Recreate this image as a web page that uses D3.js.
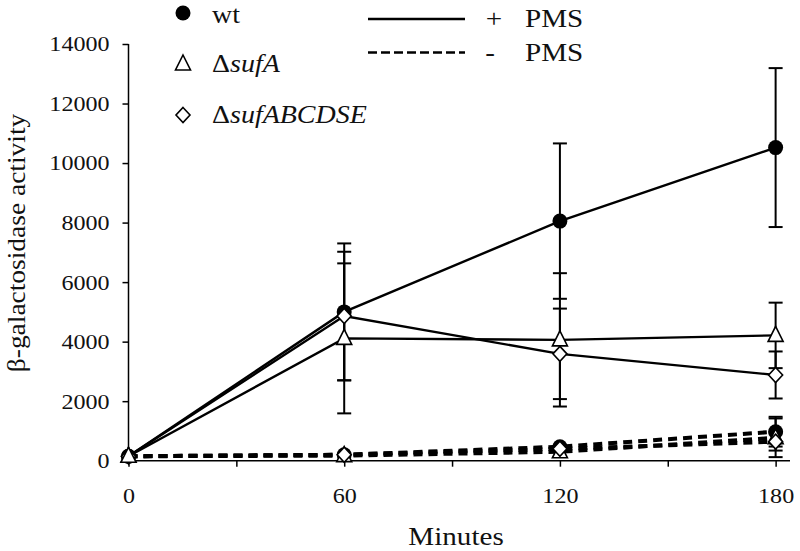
<!DOCTYPE html>
<html><head><meta charset="utf-8">
<script src="https://cdn.jsdelivr.net/npm/d3@7"></script>
<style>body{margin:0;background:#fff}svg{display:block}svg text{font-family:'Liberation Serif','Times New Roman',Times,'DejaVu Serif',serif !important;fill:#111}</style>
</head><body><svg id="c" width="800" height="551"></svg>
<script>
const minutes = [0, 60, 120, 180];
const xTicks = [0, 30, 60, 90, 120, 150, 180];
const xTickLabels = [0, 60, 120, 180];
const yTicks = [0, 2000, 4000, 6000, 8000, 10000, 12000, 14000];

// +PMS (solid)
const wtPlus = [150, 5000, 8050, 10520];
const wtPlusErr = [0, 2300, 2610, 2670];
const sufAPlus = [150, 4110, 4060, 4210];
const sufAPlusErr = [0, 2520, 2240, 1100];
const sufAllPlus = [150, 4860, 3590, 2880];
const sufAllPlusErr = [0, 2160, 1520, 790];
// -PMS (dashed)
const wtMinus = [150, 200, 470, 975];
const wtMinusErr = [0, 0, 0, 500];
const sufAMinus = [150, 170, 300, 770];
const sufAMinusErr = [0, 0, 0, 650];
const sufAllMinus = [150, 200, 400, 640];
const sufAllMinusErr = [0, 0, 0, 300];

const series = [
  {v: wtPlus, e: wtPlusErr, m: "circle", dash: false},
  {v: sufAPlus, e: sufAPlusErr, m: "triangle", dash: false},
  {v: sufAllPlus, e: sufAllPlusErr, m: "diamond", dash: false},
  {v: wtMinus, e: wtMinusErr, m: "circle", dash: true},
  {v: sufAMinus, e: sufAMinusErr, m: "triangle", dash: true},
  {v: sufAllMinus, e: sufAllMinusErr, m: "diamond", dash: true},
];

const FONT = "'Liberation Serif','Times New Roman',Times,'DejaVu Serif',serif";
const SX = 1.12; // horizontal stretch of the reference typography
const svg = d3.select("#c");
const x = d3.scaleLinear().domain([0, 184]).range([128.5, 790]);
const y = d3.scaleLinear().domain([0, 14000]).range([460.7, 44]);

// axes
const xAxis = svg.append("g").attr("transform", `translate(0,${y(0)})`)
  .call(d3.axisBottom(x).tickValues(xTicks).tickSize(6).tickFormat(d => xTickLabels.includes(d) ? d : ""));
xAxis.attr("font-family", FONT);
xAxis.select(".domain").attr("d", `M${x(0)},0H${x(184)}`).attr("stroke-width", 1.5);
xAxis.selectAll(".tick line").attr("stroke-width", 1.5);
xAxis.selectAll("text").attr("dy", 0).attr("y", 42).attr("font-size", 21.5).attr("transform", `scale(${SX},1)`);

const yAxis = svg.append("g").attr("transform", `translate(${x(0)},0)`)
  .call(d3.axisLeft(y).tickValues(yTicks).tickSize(6).tickFormat(d3.format("d")));
yAxis.attr("font-family", FONT);
yAxis.select(".domain").attr("d", `M0,${y(14000)}V${y(0)}`).attr("stroke-width", 1.5);
yAxis.selectAll(".tick line").attr("stroke-width", 1.5);
yAxis.selectAll("text").attr("x", -19 / SX).attr("font-size", 21.5).attr("transform", `scale(${SX},1)`);

function label(g, tx, ty, str, size, anchor, rot) {
  return g.append("text").attr("transform", `translate(${tx},${ty})${rot ? " rotate(" + rot + ")" : ""} scale(${SX},1)`)
    .attr("text-anchor", anchor || "start").attr("font-family", FONT).attr("font-size", size).text(str);
}
label(svg, 456, 545, "Minutes", 26, "middle");
label(svg, 25, 243, "β-galactosidase activity", 24.5, "middle", -90);

function marker(g, type, cx, cy) {
  if (type === "circle") {
    g.append("circle").attr("cx", cx).attr("cy", cy).attr("r", 7.5).attr("fill", "#000");
  } else if (type === "triangle") {
    g.append("path").attr("d", `M${cx},${cy-9}L${cx+7.5},${cy+6}L${cx-7.5},${cy+6}Z`)
      .attr("fill", "#fff").attr("stroke", "#000").attr("stroke-width", 1.6);
  } else {
    g.append("path").attr("d", `M${cx},${cy-7.5}L${cx+7},${cy}L${cx},${cy+7.5}L${cx-7},${cy}Z`)
      .attr("fill", "#fff").attr("stroke", "#000").attr("stroke-width", 1.6);
  }
}

const plot = svg.append("g");
const line = d3.line().x((d, i) => x(minutes[i])).y(d => y(d));
// error bars
series.forEach(s => {
  s.v.forEach((v, i) => {
    const e = s.e[i];
    if (!e) return;
    const cx = x(minutes[i]);
    const g = plot.append("g").attr("stroke", "#000").attr("stroke-width", 2);
    g.append("line").attr("x1", cx).attr("x2", cx).attr("y1", y(v + e)).attr("y2", y(Math.max(0, v - e)));
    g.append("line").attr("x1", cx - 7).attr("x2", cx + 7).attr("y1", y(v + e)).attr("y2", y(v + e));
    g.append("line").attr("x1", cx - 7).attr("x2", cx + 7).attr("y1", y(v - e)).attr("y2", y(v - e));
  });
});
// lines
series.forEach(s => {
  plot.append("path").datum(s.v).attr("d", line).attr("fill", "none").attr("stroke", "#000")
    .attr("stroke-width", s.dash ? 4 : 2.4).attr("stroke-dasharray", s.dash ? "9,6" : null);
});
// markers
[3, 4, 5, 0, 2, 1].forEach(k => {
  const s = series[k];
  s.v.forEach((v, i) => marker(plot, s.m, x(minutes[i]), y(v)));
});

// legend
const leg = svg.append("g").attr("font-family", FONT);
const legItems = [
  {m: "circle", t: [["wt", false]], cy: 13, by: 22.5},
  {m: "triangle", t: [["Δ", false], ["sufA", true]], cy: 64, by: 72},
  {m: "diamond", t: [["Δ", false], ["sufABCDSE", true]], cy: 115, by: 123},
];
legItems.forEach(it => {
  marker(leg, it.m, 183, it.cy);
  const tx = label(leg, 212, it.by, "", 25);
  it.t.forEach(([s, ital]) => tx.append("tspan").attr("font-style", ital ? "italic" : "normal").text(s));
});
leg.append("line").attr("x1", 368).attr("x2", 465).attr("y1", 19).attr("y2", 19).attr("stroke", "#000").attr("stroke-width", 2.4);
leg.append("line").attr("x1", 368).attr("x2", 465).attr("y1", 52.5).attr("y2", 52.5).attr("stroke", "#000").attr("stroke-width", 2.4).attr("stroke-dasharray", "9,4");
label(leg, 494, 27, "+", 26, "middle");
label(leg, 490, 61, "-", 26, "middle");
label(leg, 525, 27, "PMS", 26);
label(leg, 525, 61, "PMS", 26);
</script></body></html>
